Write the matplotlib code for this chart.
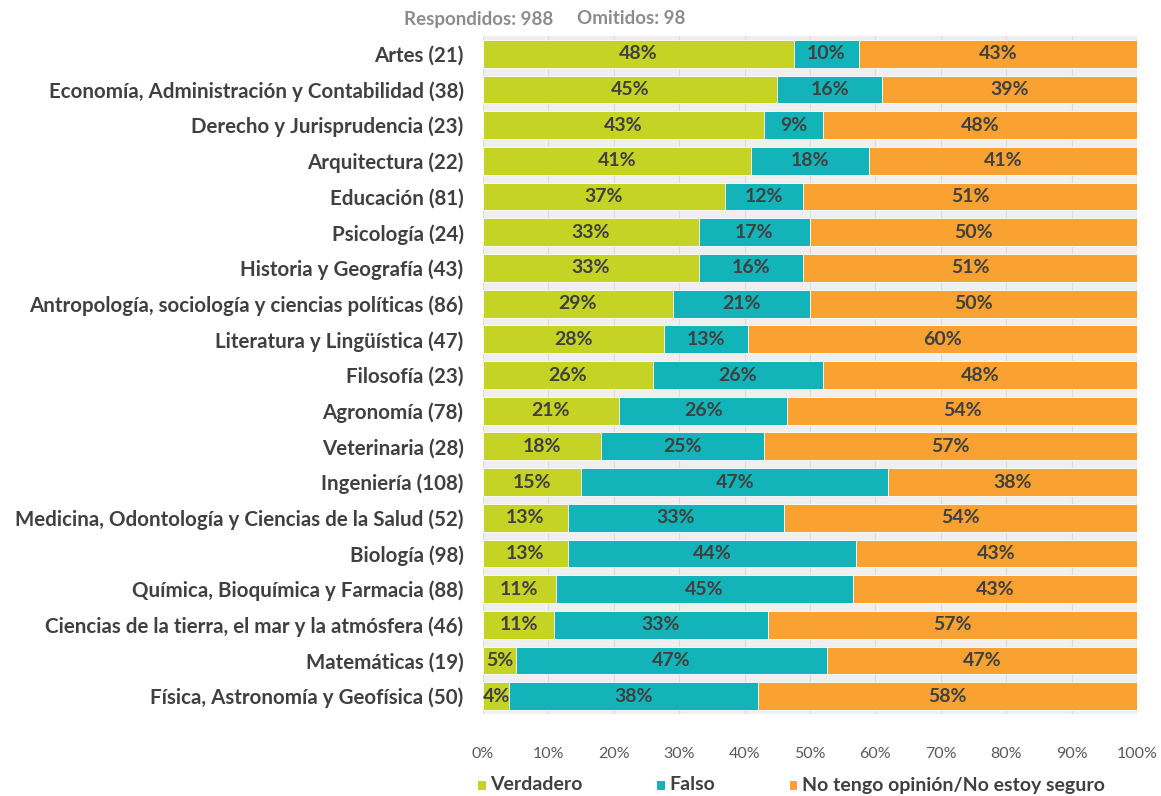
import numpy as np
import matplotlib
matplotlib.use("Agg")
import matplotlib.pyplot as plt
from matplotlib.patches import Patch

# ------------------------------------------------------------
#  Datos (porcentajes tal como aparecen en las etiquetas)
# ------------------------------------------------------------
carreras = [
    "Artes (21)",
    "Economía, Administración y Contabilidad (38)",
    "Derecho y Jurisprudencia (23)",
    "Arquitectura (22)",
    "Educación (81)",
    "Psicología (24)",
    "Historia y Geografía (43)",
    "Antropología, sociología y ciencias políticas (86)",
    "Literatura y Lingüística (47)",
    "Filosofía (23)",
    "Agronomía (78)",
    "Veterinaria (28)",
    "Ingeniería (108)",
    "Medicina, Odontología y Ciencias de la Salud (52)",
    "Biología (98)",
    "Química, Bioquímica y Farmacia (88)",
    "Ciencias de la tierra, el mar y la atmósfera (46)",
    "Matemáticas (19)",
    "Física, Astronomía y Geofísica (50)",
]
verdadero = [48, 45, 43, 41, 37, 33, 33, 29, 28, 26, 21, 18, 15, 13, 13, 11, 11, 5, 4]
falso = [10, 16, 9, 18, 12, 17, 16, 21, 13, 26, 26, 25, 47, 33, 44, 45, 33, 47, 38]
no_sabe = [43, 39, 48, 41, 51, 50, 51, 50, 60, 48, 54, 57, 38, 54, 43, 43, 57, 47, 58]
series_nombres = ["Verdadero", "Falso", "No tengo opinión/No estoy seguro"]
respondidos = 988
omitidos = 98

colores = ["#c5d325", "#12b4b9", "#f9a231"]
texto_oscuro = "#404040"

# ------------------------------------------------------------
#  Figura
# ------------------------------------------------------------
plt.rcParams['font.family'] = ['Lato', 'DejaVu Sans']

fig = plt.figure(figsize=(11.61, 7.96), dpi=100)
ax = fig.add_axes([483/1161, 1 - 714/796, (1137-483)/1161, (714-36)/796])
ax.set_facecolor("#efefef")

vals = np.array([verdadero, falso, no_sabe], dtype=float)
# las etiquetas están redondeadas; las barras se normalizan a 100 %
anchos = vals / vals.sum(axis=0) * 100

y = np.arange(len(carreras))
izq = np.zeros(len(carreras))
for k in range(3):
    ax.barh(y, anchos[k], left=izq, height=0.78, color=colores[k],
            edgecolor="white", linewidth=0.6, zorder=3)
    for i in range(len(carreras)):
        ax.text(izq[i] + anchos[k][i]/2, y[i], f"{int(vals[k][i])}%",
                ha="center", va="center", fontsize=14, fontweight="bold",
                color=texto_oscuro, zorder=4)
    izq += anchos[k]

ax.set_xlim(0, 100)
ax.set_ylim(len(carreras) - 0.5, -0.5)
ax.set_yticks(y)
ax.set_yticklabels(carreras, fontsize=14.8, fontweight="bold", color=texto_oscuro)
ax.set_xticks(np.arange(0, 101, 10))
ax.set_xticklabels([f"{t}%" for t in range(0, 101, 10)], fontsize=11.5, color="#595959")
ax.tick_params(axis="both", length=0)
ax.tick_params(axis="x", pad=24)
ax.tick_params(axis="y", pad=14)
ax.grid(axis="x", color="#dcdcdc", linewidth=0.8, zorder=0)
ax.set_axisbelow(True)
for s in ax.spines.values():
    s.set_visible(False)

# encabezado: respondidos / omitidos
fig.text(553/1161, 1 - 19/796, f"Respondidos: {respondidos}",
         fontsize=13.5, fontweight="bold", color="#8c8c8c", ha="right", va="center")
fig.text(577/1161, 1 - 19/796, f"Omitidos: {omitidos}",
         fontsize=13.5, fontweight="bold", color="#8c8c8c", ha="left", va="center")

handles = [Patch(facecolor=c, edgecolor="none") for c in colores]
leg = fig.legend(handles, series_nombres, loc="center left",
                 bbox_to_anchor=(478/1161, 1 - 785/796), ncol=3, frameon=False,
                 handlelength=0.55, handleheight=0.55, handletextpad=0.3,
                 columnspacing=5.4, borderaxespad=0, borderpad=0)
for t in leg.get_texts():
    t.set_fontsize(14)
    t.set_fontweight("bold")
    t.set_color(texto_oscuro)

fig.savefig("out.png", dpi=100)
